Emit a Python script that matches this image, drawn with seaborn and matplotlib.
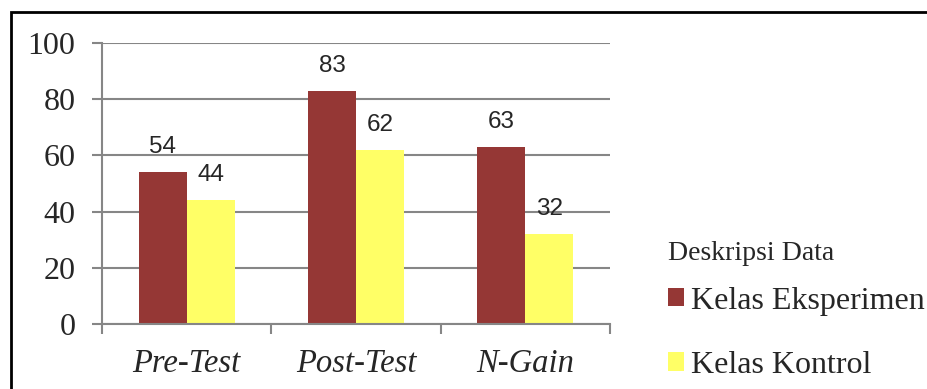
import pandas as pd
import numpy as np
import matplotlib.pyplot as plt
import seaborn as sns
from matplotlib.patches import Rectangle

# data
kategori = ["Pre-Test", "Post-Test", "N-Gain"]
eksperimen = [54, 83, 63]
kontrol = [44, 62, 32]
kelas = ["Kelas Eksperimen", "Kelas Kontrol"]

df = pd.DataFrame({
    "Kategori": kategori * 2,
    "Nilai": eksperimen + kontrol,
    "Kelas": [kelas[0]] * 3 + [kelas[1]] * 3,
})

sns.set_style("white")
plt.rcParams["font.family"] = ["Liberation Serif", "DejaVu Serif"]

fig = plt.figure(figsize=(9.27, 3.89), dpi=100)
ax = fig.add_axes([102/927, 1-324/389, (610-102)/927, (324-43)/389])

warna = ["#953735", "#FFFF66"]
sns.barplot(data=df, x="Kategori", y="Nilai", hue="Kelas", palette=warna,
            width=0.565, ax=ax, legend=True, saturation=1, linewidth=0)

# data labels
for cont in ax.containers:
    ax.bar_label(cont, padding=10, fontsize=17.5, family="Liberation Sans")

ax.set_ylim(0, 100)
ax.set_xlim(-0.5, 2.5)
ax.set_yticks(np.arange(0, 101, 20))
ax.yaxis.grid(True, color="#868686", linewidth=1.5)
ax.set_axisbelow(True)
ax.set_xlabel("")
ax.set_ylabel("")

# x ticks: marks at boundaries, labels at centres
ax.set_xticks([-0.5, 0.5, 1.5, 2.5])
ax.set_xticklabels([])
ax.set_xticks([0, 1, 2], minor=True)
ax.set_xticklabels(kategori, minor=True, style="italic", fontsize=23.5)
ax.tick_params(axis="x", which="minor", length=0, pad=18)
ax.tick_params(axis="x", which="major", length=7, width=1.5, color="#868686", direction="out")
ax.tick_params(axis="y", length=7, width=1.5, color="#868686", labelsize=23, pad=12)
ax.tick_params(bottom=True, left=True)

for s in ["top", "right"]:
    ax.spines[s].set_visible(False)
for s in ["left", "bottom"]:
    ax.spines[s].set_color("#868686")
    ax.spines[s].set_linewidth(1.5)

h, l = ax.get_legend_handles_labels()
ax.get_legend().remove()
leg = fig.legend(h, l, title="Deskripsi Data", loc="upper left",
                 bbox_to_anchor=(655/927, 1-228/389), frameon=False,
                 fontsize=23, title_fontsize=20, handlelength=0.5,
                 handleheight=0.5, handletextpad=0.22, labelspacing=1.1,
                 alignment="left", borderaxespad=0)
leg._legend_box.sep = 15

# outer frame
fig.patches.append(Rectangle((10.5/927, -0.05), 2.0, 1.05 - 12/389,
                             transform=fig.transFigure, fill=False,
                             edgecolor="black", linewidth=2))

fig.savefig("out.png", dpi=100)
